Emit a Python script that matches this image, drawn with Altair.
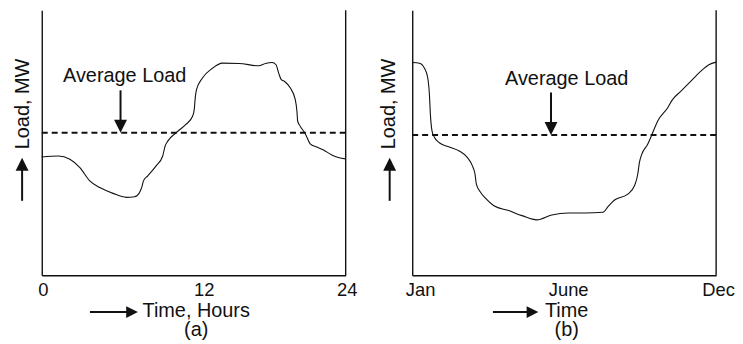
import altair as alt
import pandas as pd

# ---------------- data ----------------
# Panel (a): daily load curve, x in hours (0-24), y in relative load units (0-100)
hours = [0, 1.31, 2.22, 3.01, 3.79, 4.58, 5.63, 6.67, 7.33, 7.72,
         7.93, 8.03, 8.37, 9.03, 9.55, 9.74, 9.95, 10.60, 11.38, 11.91,
         12.04, 12.12, 12.22, 12.69, 13.48, 14.26, 15.57, 17.14, 17.67, 18.19,
         18.50, 18.71, 18.92, 19.18, 19.63, 20.02, 20.15, 20.21, 20.41, 20.81,
         21.20, 21.72, 22.25, 22.90, 23.42, 24]
daily_load = [44.6, 45.0, 43.75, 40.6, 35.6, 33.1, 30.9, 29.4, 29.6, 31.25,
              33.75, 35.6, 37.5, 41.25, 45, 48.75, 50.6, 53.75, 56.9, 60,
              62.5, 66.9, 70, 74.4, 78.1, 80, 79.9, 79, 79.9, 80.25,
              79.4, 76.25, 73.75, 73.1, 70.6, 66.25, 61.9, 58.1, 56.25, 53.4,
              49.6, 48.4, 47.25, 45.4, 44.4, 43.9]
daily_avg = 53.75
daily_ticks = [0, 12, 24]
daily_tick_labels = ["0", "12", "24"]

# Panel (b): yearly load curve, x in months from Jan (0) to Dec (12)
months = [0, 0.287, 0.483, 0.614, 0.679, 0.718, 0.783, 0.875, 1.071, 1.462,
          1.854, 2.181, 2.377, 2.481, 2.533, 2.703, 2.899, 3.225, 3.813, 4.335,
          4.923, 5.510, 6.163, 6.816, 7.534, 7.730, 7.991, 8.514, 8.775, 8.905,
          8.970, 9.062, 9.297, 9.493, 9.689, 10.081, 10.277, 10.603, 10.995, 11.387,
          11.713, 12]
yearly_load = [80.25, 80, 78.1, 74.4, 68.1, 60.6, 54.4, 52.1, 50, 48.4,
               46.9, 44.4, 41.25, 38.1, 34.4, 31.25, 29, 26.25, 24.4, 22.5,
               20.9, 22.75, 23.5, 23.5, 23.75, 25.9, 28.4, 30.6, 33.75, 38.1,
               42.5, 45.6, 49.4, 53.75, 58.1, 63.1, 66.25, 69.4, 73.1, 76.9,
               79.4, 80.4]
yearly_avg = 52.9
yearly_ticks = [0, 6, 12]
yearly_tick_labels = ["Jan", "June", "Dec"]

# "Average Load" annotation anchors (data units)
daily_annot = {"text_x": 6.55, "arrow_x": 6.22}
yearly_annot = {"text_x": 6.1, "arrow_x": 5.48}

Y_MAX = 100
FONT = "Liberation Sans"
INK = "#111111"
W, H = 306, 267

HEAD_DOWN = "M-1,-2L1,-2L0,0Z"
HEAD_UP = "M-1,2L1,2L0,0Z"
HEAD_RIGHT = "M-2,-1L-2,1L0,0Z"


def panel(xs, ys, avg, ticks, tick_labels, xtitle, annot, label_offset,
          ytitle_x, yarrow_x, xarrow_x0, xarrow_x1):
    x_max = ticks[-1]
    xscale = alt.Scale(domain=[0, x_max], nice=False, zero=False)
    yscale = alt.Scale(domain=[0, Y_MAX], nice=False, zero=False)
    label_expr = " : ".join(
        [f"datum.value == {v} ? '{t}'" for v, t in zip(ticks[:-1], tick_labels[:-1])]
        + [f"'{tick_labels[-1]}'"]
    )
    xaxis = alt.Axis(
        values=ticks, ticks=False, grid=False, labelExpr=label_expr,
        domainColor=INK, domainWidth=1.4,
        labelFont=FONT, labelFontSize=18.5, labelColor=INK, labelPadding=5,
        labelFlush=False, labelOverlap=False, labelOffset=label_offset,
        title=xtitle, titleFont=FONT, titleFontSize=20, titleFontWeight="normal",
        titleColor=INK, titleX=W / 2 + 2, titleY=25, titleAlign="center",
        titleBaseline="top", titleLineHeight=20,
    )
    yaxis = alt.Axis(
        labels=False, ticks=False, grid=False, domainColor=INK, domainWidth=1.4,
        title="Load, MW", titleFont=FONT, titleFontSize=20, titleFontWeight="normal",
        titleColor=INK, titleAngle=270, titleX=ytitle_x, titleY=94,
        titleAlign="center", titleBaseline="middle",
    )

    df = pd.DataFrame({"x": xs, "load": ys})
    curve = alt.Chart(df).mark_line(color=INK, strokeWidth=1.1, interpolate="monotone").encode(
        x=alt.X("x:Q", scale=xscale, axis=xaxis),
        y=alt.Y("load:Q", scale=yscale, axis=yaxis),
    )

    avg_df = pd.DataFrame({"x0": [0], "x1": [x_max], "avg": [avg]})
    avg_line = alt.Chart(avg_df).mark_rule(color=INK, strokeWidth=2, strokeDash=[6, 4]).encode(
        x=alt.X("x0:Q", scale=xscale), x2="x1:Q", y=alt.Y("avg:Q", scale=yscale)
    )

    edge_df = pd.DataFrame({"x": [x_max], "y0": [0], "y1": [Y_MAX]})
    right_edge = alt.Chart(edge_df).mark_rule(color=INK, strokeWidth=1.4).encode(
        x=alt.X("x:Q", scale=xscale), y=alt.Y("y0:Q", scale=yscale), y2="y1:Q"
    )

    text_df = pd.DataFrame({"x": [annot["text_x"]], "y": [avg + 19], "t": ["Average Load"]})
    annot_text = alt.Chart(text_df).mark_text(
        font=FONT, fontSize=20, color=INK, align="center", baseline="alphabetic"
    ).encode(x=alt.X("x:Q", scale=xscale), y=alt.Y("y:Q", scale=yscale), text="t:N")

    arrow_df = pd.DataFrame({"x": [annot["arrow_x"]], "top": [avg + 16], "base": [avg + 4], "tip": [avg]})
    annot_shaft = alt.Chart(arrow_df).mark_rule(color=INK, strokeWidth=2).encode(
        x=alt.X("x:Q", scale=xscale), y=alt.Y("top:Q", scale=yscale), y2="base:Q"
    )
    annot_head = alt.Chart(arrow_df).mark_point(
        shape=HEAD_DOWN, filled=True, color=INK, opacity=1, size=169, strokeWidth=0
    ).encode(x=alt.X("x:Q", scale=xscale), y=alt.Y("tip:Q", scale=yscale))

    one = pd.DataFrame({"k": [0]})
    # arrow beside the y-axis title (points up)
    y_shaft = alt.Chart(one).mark_rule(color=INK, strokeWidth=2).encode(
        x=alt.value(yarrow_x), y=alt.value(192), y2=alt.value(158)
    )
    y_head = alt.Chart(one).mark_point(
        shape=HEAD_UP, filled=True, color=INK, opacity=1, size=169, strokeWidth=0
    ).encode(x=alt.value(yarrow_x), y=alt.value(148.7))
    # arrow beside the x-axis title (points right)
    x_shaft = alt.Chart(one).mark_rule(color=INK, strokeWidth=2).encode(
        x=alt.value(xarrow_x0), x2=alt.value(xarrow_x1 - 9), y=alt.value(304)
    )
    x_head = alt.Chart(one).mark_point(
        shape=HEAD_RIGHT, filled=True, color=INK, opacity=1, size=139, strokeWidth=0
    ).encode(x=alt.value(xarrow_x1), y=alt.value(304))

    return alt.layer(
        avg_line, right_edge, curve, annot_text, annot_shaft, annot_head,
        y_shaft, y_head, x_shaft, x_head,
    ).properties(width=W, height=H)


pa = panel(
    hours, daily_load, daily_avg, daily_ticks, daily_tick_labels,
    ["Time, Hours", "(a)"], daily_annot,
    {"condition": {"test": "datum.value == 12", "value": 10}, "value": 1},
    ytitle_x=-19, yarrow_x=-19.8, xarrow_x0=48.5, xarrow_x1=96.8,
)
pb = panel(
    months, yearly_load, yearly_avg, yearly_ticks, yearly_tick_labels,
    ["Time", "(b)"], yearly_annot,
    {"condition": [{"test": "datum.value == 0", "value": 8},
                   {"test": "datum.value == 6", "value": 4}], "value": 2},
    ytitle_x=-24, yarrow_x=-22.7, xarrow_x0=81.3, xarrow_x1=127,
)

chart = alt.hconcat(pa, pb, spacing=67, bounds="flush").configure_view(
    stroke=None
).properties(padding={"left": 5, "top": 0, "right": 0, "bottom": 0})

chart.save("out.html", embed_options={"renderer": "svg", "actions": False})
